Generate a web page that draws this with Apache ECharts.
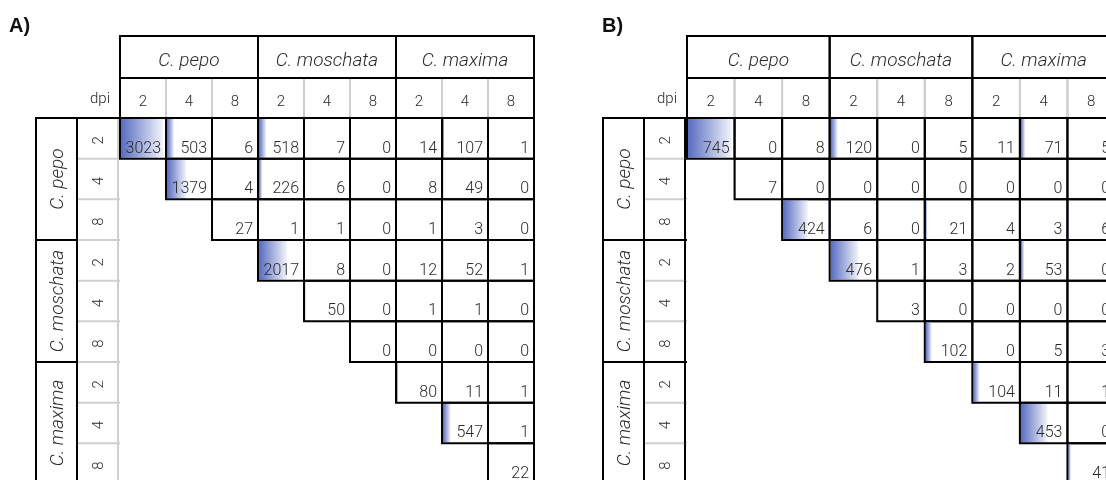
<!DOCTYPE html>
<html>
<head>
<meta charset="utf-8">
<script src="https://cdn.jsdelivr.net/npm/echarts@6/dist/echarts.min.js"></script>
<style>
html,body{margin:0;padding:0;background:#fff;}
#chart{width:1106px;height:480px;}
</style>
</head>
<body>
<div id="chart"></div>
<script>
// ---- data ----
const species = ['C. pepo', 'C. moschata', 'C. maxima'];
const dpiLevels = ['2', '4', '8'];
const panelLabels = ['A)', 'B)'];
const dpiTitle = 'dpi';
const matrixA = [
  [3023, 503, 6, 518, 7, 0, 14, 107, 1],
  [null, 1379, 4, 226, 6, 0, 8, 49, 0],
  [null, null, 27, 1, 1, 0, 1, 3, 0],
  [null, null, null, 2017, 8, 0, 12, 52, 1],
  [null, null, null, null, 50, 0, 1, 1, 0],
  [null, null, null, null, null, 0, 0, 0, 0],
  [null, null, null, null, null, null, 80, 11, 1],
  [null, null, null, null, null, null, null, 547, 1],
  [null, null, null, null, null, null, null, null, 22]
];
const matrixB = [
  [745, 0, 8, 120, 0, 5, 11, 71, 5],
  [null, 7, 0, 0, 0, 0, 0, 0, 0],
  [null, null, 424, 6, 0, 21, 4, 3, 6],
  [null, null, null, 476, 1, 3, 2, 53, 0],
  [null, null, null, null, 3, 0, 0, 0, 0],
  [null, null, null, null, null, 102, 0, 5, 3],
  [null, null, null, null, null, null, 104, 11, 1],
  [null, null, null, null, null, null, null, 453, 0],
  [null, null, null, null, null, null, null, null, 41]
];

// ---- derived ----
const nCols = species.length * dpiLevels.length;
function cellData(m) {
  const out = [];
  m.forEach((row, r) => row.forEach((v, c) => { if (v !== null) out.push([c, r, v]); }));
  return out;
}
function maxOf(m) { let mx = 0; m.forEach(row => row.forEach(v => { if (v !== null && v > mx) mx = v; })); return mx; }

const FONT = 'Roboto, "Liberation Sans", sans-serif';
const TXT = '#2a2a2a';
const GRAY = '#cfcfcf';

function cellRender(max) {
  return function (params, api) {
    const c = api.value(0), r = api.value(1), v = api.value(2);
    const p0 = api.coord([c, r]), p1 = api.coord([c + 1, r + 1]);
    const x = p0[0], y = p0[1], w = p1[0] - p0[0], h = p1[1] - p0[1];
    const bw = v / max * (w - 4);
    const kids = [];
    if (bw > 0.3) {
      kids.push({
        type: 'rect', shape: { x: x + 1, y: y + 1, width: bw, height: h - 2 },
        style: { fill: { type: 'linear', x: 0, y: 0, x2: 1, y2: 0,
          colorStops: [{ offset: 0, color: '#586cc0' }, { offset: 1, color: '#f3f4fb' }] } }
      });
    }
    kids.push({ type: 'rect', shape: { x: x, y: y, width: w, height: h },
      style: { fill: null, stroke: '#000', lineWidth: 2 } });
    kids.push({ type: 'text', x: x + w - 5, y: y + h - 2,
      style: { text: String(v), align: 'right', verticalAlign: 'bottom',
        font: '300 16px ' + FONT, fill: TXT } });
    return { type: 'group', children: kids };
  };
}

function headerRender(params, api) {
  const kind = api.value(2), idx = api.value(3);
  const top = api.coord([0, 0])[1];
  if (kind === 0) { // dpi column header
    const c = api.value(0);
    const x0 = api.coord([c, 0])[0], x1 = api.coord([c + 1, 0])[0];
    return { type: 'group', children: [
      { type: 'rect', shape: { x: x0, y: top - 40, width: x1 - x0, height: 40 },
        style: { fill: null, stroke: GRAY, lineWidth: 2 } },
      { type: 'text', x: (x0 + x1) / 2, y: top - 16,
        style: { text: dpiLevels[idx], align: 'center', verticalAlign: 'middle',
          font: '300 15px ' + FONT, fill: TXT } }
    ] };
  }
  const g = idx;
  const x0 = api.coord([g * dpiLevels.length, 0])[0];
  const x1 = api.coord([(g + 1) * dpiLevels.length, 0])[0];
  return { type: 'group', children: [
    { type: 'rect', shape: { x: x0, y: top - 82, width: x1 - x0, height: 82 },
      style: { fill: null, stroke: '#000', lineWidth: 2 } },
    { type: 'line', shape: { x1: x0, y1: top - 40, x2: x1, y2: top - 40 },
      style: { stroke: '#000', lineWidth: 2 } },
    { type: 'text', x: (x0 + x1) / 2, y: top - 57,
      style: { text: species[g], align: 'center', verticalAlign: 'middle',
        font: 'italic 300 19px ' + FONT, fill: TXT } }
  ] };
}

function rowLabelRender(edgeColor) {
  return function (params, api) {
    const kind = api.value(2), idx = api.value(3);
    const left = api.coord([0, 0])[0];
    if (kind === 0) { // dpi row label
      const r = api.value(1);
      const y0 = api.coord([0, r])[1], y1 = api.coord([0, r + 1])[1];
      return { type: 'group', children: [
        { type: 'line', shape: { x1: left - 43, y1: y1, x2: left, y2: y1 }, style: { stroke: GRAY, lineWidth: 2 } },
        { type: 'line', shape: { x1: left - 2, y1: y0, x2: left - 2, y2: y1 }, style: { stroke: edgeColor, lineWidth: 2 } },
        { type: 'text', x: left - 21, y: (y0 + y1) / 2 + 2, rotation: Math.PI / 2,
          style: { text: dpiLevels[idx], align: 'center', verticalAlign: 'middle',
            font: '300 15px ' + FONT, fill: TXT } }
      ] };
    }
    const g = idx;
    const y0 = api.coord([0, g * dpiLevels.length])[1];
    const y1 = api.coord([0, (g + 1) * dpiLevels.length])[1];
    const kids = [
      { type: 'rect', shape: { x: left - 84, y: y0, width: 41, height: y1 - y0 },
        style: { fill: null, stroke: '#000', lineWidth: 2 } },
      { type: 'text', x: left - 62, y: (y0 + y1) / 2, rotation: Math.PI / 2,
        style: { text: species[g], align: 'center', verticalAlign: 'middle',
          font: 'italic 300 19px ' + FONT, fill: TXT } }
    ];
    if (g === 0 || edgeColor === '#000') {
      kids.push({ type: 'line', shape: { x1: left - 84, y1: y0, x2: left, y2: y0 }, style: { stroke: '#000', lineWidth: 2 } });
    }
    return { type: 'group', children: kids };
  };
}

function headerData() {
  const d = [];
  for (let c = 0; c < nCols; c++) d.push([c, 0, 0, c % dpiLevels.length]);
  for (let g = 0; g < species.length; g++) d.push([g * dpiLevels.length, 0, 1, g]);
  return d;
}
function rowLabelData() {
  const d = [];
  for (let r = 0; r < nCols; r++) d.push([0, r, 0, r % dpiLevels.length]);
  for (let g = 0; g < species.length; g++) d.push([0, g * dpiLevels.length, 1, g]);
  return d;
}

const panels = [
  { m: matrixA, grid: { left: 120, top: 118, width: 414, height: 366 }, edge: GRAY },
  { m: matrixB, grid: { left: 687, top: 118, width: 428, height: 366 }, edge: '#000' }
];

const option = {
  animation: false,
  backgroundColor: '#fff',
  grid: panels.map(p => Object.assign({ containLabel: false, outerBoundsMode: 'none' }, p.grid)),
  xAxis: panels.map((p, i) => ({ type: 'value', gridIndex: i, min: 0, max: nCols, show: false })),
  yAxis: panels.map((p, i) => ({ type: 'value', gridIndex: i, min: 0, max: nCols, inverse: true, show: false })),
  graphic: [
    { type: 'text', left: 9, top: 16, style: { text: panelLabels[0], font: 'bold 20px Arial, "Liberation Sans", sans-serif', fill: '#111' } },
    { type: 'text', left: 602, top: 16, style: { text: panelLabels[1], font: 'bold 20px Arial, "Liberation Sans", sans-serif', fill: '#111' } },
    { type: 'text', right: 1106 - 110, top: 92, style: { text: dpiTitle, font: '300 15px ' + FONT, fill: TXT } },
    { type: 'text', right: 1106 - 677, top: 92, style: { text: dpiTitle, font: '300 15px ' + FONT, fill: TXT } }
  ],
  series: []
};
panels.forEach((p, i) => {
  option.series.push({ type: 'custom', xAxisIndex: i, yAxisIndex: i, clip: false, z: 1,
    renderItem: headerRender, data: headerData(), silent: true });
  option.series.push({ type: 'custom', xAxisIndex: i, yAxisIndex: i, clip: false, z: 1,
    renderItem: rowLabelRender(p.edge), data: rowLabelData(), silent: true });
  option.series.push({ type: 'custom', xAxisIndex: i, yAxisIndex: i, clip: false, z: 3,
    renderItem: cellRender(maxOf(p.m)), data: cellData(p.m), silent: true });
});

const chart = echarts.init(document.getElementById('chart'), null, { renderer: 'canvas' });
chart.setOption(option);
</script>
</body>
</html>
